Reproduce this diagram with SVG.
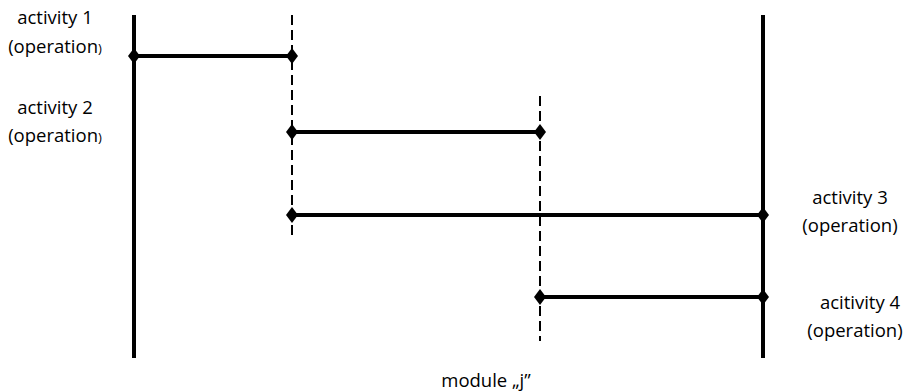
<svg xmlns="http://www.w3.org/2000/svg" width="912" height="391" viewBox="0 0 912 391">
<style>
text{font-family:"Open Sans","Liberation Sans",sans-serif;font-size:18.5px;fill:#000;text-anchor:middle}
.solid{stroke:#000;stroke-width:4;fill:none}
.dash{stroke:#000;stroke-width:2;stroke-dasharray:10 5;fill:none}
.bar{stroke:#000;stroke-width:4;fill:none;marker-start:url(#d);marker-end:url(#d)}
.sp{font-size:13px}
</style>
<defs>
<marker id="d" viewBox="-6 -8 12 16" markerWidth="12" markerHeight="16" refX="0" refY="0" markerUnits="userSpaceOnUse" orient="0">
<path d="M0,-8 L6,0 L0,8 L-6,0 Z" fill="#000"/>
</marker>
</defs>
<rect width="912" height="391" fill="#fff"/>
<g id="axes">
<line class="solid" x1="134" y1="15" x2="134" y2="358"/>
<line class="solid" x1="763" y1="15" x2="763" y2="358"/>
<line class="dash" x1="292" y1="15" x2="292" y2="238"/>
<line class="dash" x1="540" y1="96" x2="540" y2="341"/>
</g>
<g id="connectors">
<line class="bar" x1="134" y1="56" x2="292" y2="56"/>
<line class="bar" x1="292" y1="132" x2="540" y2="132"/>
<line class="bar" x1="292" y1="215" x2="763" y2="215"/>
<line class="bar" x1="540" y1="297" x2="763" y2="297"/>
</g>
<g id="activity1"><text x="55" y="24">activity 1</text><text x="55" y="53">(operation<tspan class="sp">)</tspan></text></g>
<g id="activity2"><text x="55" y="114">activity 2</text><text x="55" y="142">(operation<tspan class="sp">)</tspan></text></g>
<g id="activity3"><text x="850" y="204">activity 3</text><text x="850" y="232">(operation)</text></g>
<g id="activity4"><text x="860" y="309">acitivity 4</text><text x="855" y="337">(operation)</text></g>
<g id="module"><text x="486" y="387">module „j”</text></g>
</svg>
